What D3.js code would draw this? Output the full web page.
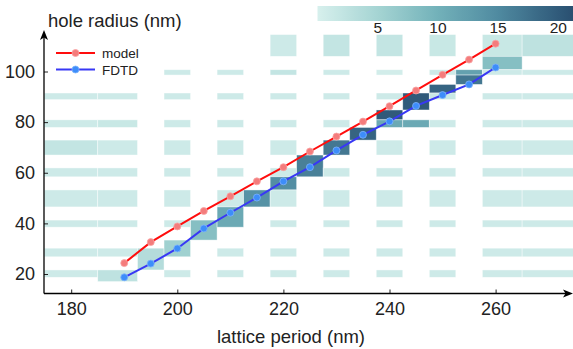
<!DOCTYPE html>
<html>
<head>
<meta charset="utf-8">
<script src="https://d3js.org/d3.v7.min.js"></script>
<style>
  body { margin: 0; background: #fff; }
  svg { display: block; font-family: "Liberation Sans", Arial, sans-serif; }
</style>
</head>
<body>
<figure id="chart" style="margin:0"></figure>
<script>
// lattice period (nm) of the simulated points
const periods = [190, 195, 200, 205, 210, 215, 220, 225, 230, 235, 240, 245, 250, 255, 260];
const modelRadius = [24.3, 32.6, 38.8, 44.9, 50.7, 56.6, 62.2, 68.4, 74.3, 80.2, 86.3, 92.5, 98.7, 104.7, 111.0];
const fdtdRadius = [18.7, 24.1, 30.1, 38.0, 44.2, 50.2, 56.6, 62.2, 68.8, 75.0, 80.3, 86.4, 90.7, 94.9, 101.6];

const xTicks = [180, 200, 220, 240, 260];
const yTicks = [20, 40, 60, 80, 100];
const colorTicks = [5, 10, 15, 20];

// heatmap bins (pcolormesh style, radius edges from top to bottom)
const periodEdges = [174.9, 185, 192.5, 197.5, 202.5, 207.5, 212.5, 217.5, 222.5, 227.5, 232.5, 237.5, 242.5, 247.5, 252.5, 257.5, 265, 275];
const radiusEdges = [114.6, 106.0, 100.7, 98.6, 94.9, 91.5, 88.9, 84.8, 80.9, 77.9, 72.9, 67.0, 61.9, 58.4, 53.2, 46.5, 41.3, 38.5, 33.4, 30.2, 26.8, 21.6, 18.7, 17.0];
const N = null;
const counts = [
  [N, N, N, N, N, N, N, 1, N, 2, N, 2, N, 1.5, N, 1.5, 2.5],
  [N, N, N, N, N, N, N, N, N, N, N, N, N, N, N, 8, N],
  [N, N, N, 1, N, 1, N, 2, N, 1, N, 0.5, N, 1, 12, 1, 1],
  [N, N, N, N, N, N, N, N, N, N, N, N, N, N, 17, N, N],
  [N, N, N, N, N, N, N, N, N, N, N, N, N, 19, N, N, N],
  [1, 1, N, 1, N, 1, N, 1, N, 1, N, 1, 20, 1.5, N, 1, 1],
  [N, N, N, N, N, N, N, N, N, N, N, N, 20, N, N, N, N],
  [N, N, N, N, N, N, N, N, N, N, N, 20, N, N, N, N, N],
  [1, 1.5, N, 1, N, 1, N, 1, N, 1, N, 11, 11, 1, N, 1, 1],
  [N, N, N, N, N, N, N, N, N, N, 19, N, N, N, N, N, N],
  [2, 1, N, 1, N, 1, N, 1, N, 17, N, 1, N, 1, N, 1, 1],
  [N, N, N, N, N, N, N, N, 16, N, N, N, N, N, N, N, N],
  [1, 1, N, 1, N, 1, N, 1, 16, 1, N, 1, N, 1, N, 1, 1],
  [N, N, N, N, N, N, N, 14.5, N, N, N, N, N, N, N, N, N],
  [1, 1, N, 1, N, 1, 14, 1, N, 1, N, 1, N, 1, N, 1, 1],
  [N, N, N, N, N, 11, N, N, N, N, N, N, N, N, N, N, N],
  [1, 1, N, 1, 8, 11, N, 1, N, 1, N, 1, N, 1, N, 1, 1],
  [N, N, N, N, 8, N, N, N, N, N, N, N, N, N, N, N, N],
  [N, N, N, 5.5, N, N, N, N, N, N, N, N, N, N, N, N, N],
  [1, 1, 3.5, 5.5, N, 1, N, 1, N, 1, N, 1, N, 1, N, 1, 1],
  [N, N, 3.5, N, N, N, N, N, N, N, N, N, N, N, N, N, N],
  [1, 2.5, N, 1, N, 1, N, 1, N, 1, N, 1, N, 1, N, 1, 1],
  [N, 2.5, N, N, N, N, N, N, N, N, N, N, N, N, N, N, N]
];

const width = 573, height = 349;

const svg = d3.select("figure#chart")
  .append("svg")
  .attr("width", width)
  .attr("height", height);

const x = d3.scaleLinear().domain([180, 260]).range([71.2, 495.6]);
const y = d3.scaleLinear().domain([20, 100]).range([274, 71.5]);

const color = d3.scaleLinear()
  .domain([0, 5, 10, 15, 20, 22])
  .range(["#d7f0ed", "#a5d4d3", "#72b1b9", "#4f8aa0", "#305a7a", "#254869"])
  .clamp(true);

// merge equal neighbouring bins in a column into one rect
const cells = [];
periodEdges.slice(0, -1).forEach((p0, ci) => {
  let ri = 0;
  while (ri < counts.length) {
    const v = counts[ri][ci];
    if (v === null) { ri++; continue; }
    let end = ri;
    while (end + 1 < counts.length && counts[end + 1][ci] === v) end++;
    cells.push({ p0: p0, p1: periodEdges[ci + 1], r0: radiusEdges[ri], r1: radiusEdges[end + 1], v: v });
    ri = end + 1;
  }
});

svg.append("g")
  .selectAll("rect")
  .data(cells)
  .enter()
  .append("rect")
  .attr("x", d => x(d.p0))
  .attr("y", d => y(d.r0))
  .attr("width", d => x(d.p1) - x(d.p0))
  .attr("height", d => y(d.r1) - y(d.r0))
  .attr("fill", d => color(d.v))
  .attr("stroke", "#ffffff")
  .attr("stroke-opacity", 0.6)
  .attr("stroke-width", 0.7);

// axes
const x0 = 44, yBase = 293.5;

const gx = svg.append("g")
  .attr("transform", "translate(0," + yBase + ")")
  .call(d3.axisBottom(x).tickValues(xTicks).tickSize(-4).tickPadding(9).tickFormat(d3.format("d")));
gx.select(".domain").remove();
gx.selectAll("text").attr("font-size", 18).attr("fill", "#222").attr("font-family", null);
gx.selectAll("line").attr("stroke", "#222");

const gy = svg.append("g")
  .attr("transform", "translate(" + x0 + ",0)")
  .call(d3.axisLeft(y).tickValues(yTicks).tickSize(-4).tickPadding(9).tickFormat(d3.format("d")));
gy.select(".domain").remove();
gy.selectAll("text").attr("font-size", 18).attr("fill", "#222").attr("font-family", null);
gy.selectAll("line").attr("stroke", "#222");

// axis lines with arrow heads
svg.append("line")
  .attr("x1", x0).attr("x2", 567)
  .attr("y1", yBase).attr("y2", yBase)
  .attr("stroke", "#000").attr("stroke-width", 1.3);
svg.append("path")
  .attr("d", `M573,${yBase} L563,${yBase - 4} L565.5,${yBase} L563,${yBase + 4} Z`)
  .attr("fill", "#000");

svg.append("line")
  .attr("x1", x0).attr("x2", x0)
  .attr("y1", yBase).attr("y2", 36)
  .attr("stroke", "#000").attr("stroke-width", 1.3);
svg.append("path")
  .attr("d", `M${x0},30 L${x0 - 4},40 L${x0},37.5 L${x0 + 4},40 Z`)
  .attr("fill", "#000");

svg.append("text")
  .attr("x", 291).attr("y", 343)
  .attr("text-anchor", "middle")
  .attr("font-size", 18.5).attr("fill", "#222")
  .text("lattice period (nm)");

svg.append("text")
  .attr("x", 48).attr("y", 27)
  .attr("font-size", 18.5).attr("fill", "#222")
  .text("hole radius (nm)");

// model and FDTD curves
const series = [
  { name: "model", values: modelRadius, line: "#ff0d0d", dot: "#f47c7c", edge: "#f7a3a3" },
  { name: "FDTD", values: fdtdRadius, line: "#3838f5", dot: "#3d8dfa", edge: "#7db4fb" }
];

const line = d3.line()
  .x(d => x(d[0]))
  .y(d => y(d[1]));

series.forEach(s => {
  const pts = periods.map((p, i) => [p, s.values[i]]);
  svg.append("path")
    .datum(pts)
    .attr("d", line)
    .attr("fill", "none")
    .attr("stroke", s.line)
    .attr("stroke-width", 2);
  svg.append("g")
    .selectAll("circle")
    .data(pts)
    .enter()
    .append("circle")
    .attr("cx", d => x(d[0]))
    .attr("cy", d => y(d[1]))
    .attr("r", 3.5)
    .attr("fill", s.dot)
    .attr("stroke", s.edge)
    .attr("stroke-width", 0.8);
});

// legend
const legend = svg.append("g");
series.forEach((s, i) => {
  const ly = 53 + i * 16.5;
  legend.append("line")
    .attr("x1", 56).attr("x2", 95)
    .attr("y1", ly).attr("y2", ly)
    .attr("stroke", s.line).attr("stroke-width", 2);
  legend.append("circle")
    .attr("cx", 75.5).attr("cy", ly).attr("r", 3.5)
    .attr("fill", s.dot).attr("stroke", s.edge).attr("stroke-width", 0.8);
  legend.append("text")
    .attr("x", 102).attr("y", ly + 5)
    .attr("font-size", 13.5).attr("fill", "#222")
    .text(s.name);
});

// colorbar
const cb = d3.scaleLinear().domain([0, 22]).range([317.5, 582.4]);
const grad = svg.append("defs").append("linearGradient")
  .attr("id", "cbar")
  .attr("x1", "0%").attr("x2", "100%");
d3.range(0, 22.01, 0.5).forEach(v => {
  grad.append("stop")
    .attr("offset", (v / 22 * 100) + "%")
    .attr("stop-color", color(v));
});
svg.append("rect")
  .attr("x", cb(0)).attr("y", 6)
  .attr("width", cb(22) - cb(0)).attr("height", 15)
  .attr("fill", "url(#cbar)");
svg.append("g")
  .selectAll("text")
  .data(colorTicks)
  .enter()
  .append("text")
  .attr("x", d => cb(d))
  .attr("y", 33)
  .attr("text-anchor", "middle")
  .attr("font-size", 15.5).attr("fill", "#222")
  .text(d => d);
</script>
</body>
</html>
